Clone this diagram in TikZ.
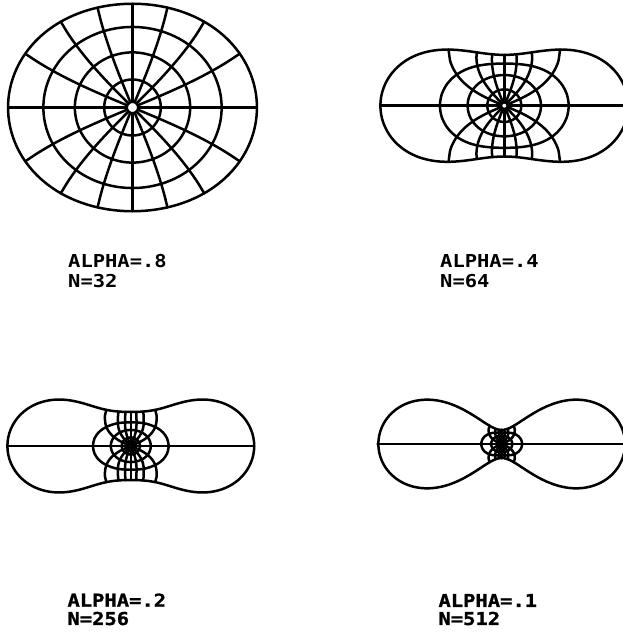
\documentclass[tikz,border=0pt]{standalone}
\usepackage{fontspec}
\newfontfamily\plotfont[FakeStretch=1.15]{DejaVu Sans Mono Bold}
\newfontfamily\plotheavy[FakeStretch=1.15, FakeBold=1.2]{DejaVu Sans Mono Bold}

% image of r*e^(i theta) under z/sqrt(1-a^2 z^2): #1=a^2, #2=r, #3=theta
\newcommand\mappt[3]{%
    \pgfmathsetmacro\mP{1-#1*#2*#2*cos(2*#3)}%
    \pgfmathsetmacro\mQ{#1*#2*#2*sin(2*#3)}%
    \pgfmathsetmacro\mR{#2/sqrt(sqrt(\mP*\mP+\mQ*\mQ))}%
    \pgfmathsetmacro\mT{#3+0.5*atan2(\mQ,\mP)}%
    \pgfmathsetmacro\mx{\mR*cos(\mT)}%
    \pgfmathsetmacro\my{\mR*sin(\mT)}%
}
% point of the boundary oval at polar angle #2
\newcommand\casspt[2]{%
    \pgfmathsetmacro\mR{sqrt((#1*cos(2*#2)+sqrt(1-#1*#1*sin(2*#2)*sin(2*#2)))/(1-#1*#1))}%
    \pgfmathsetmacro\mx{\mR*cos(#2)}%
    \pgfmathsetmacro\my{\mR*sin(#2)}%
}
% widen the neck: #1=a^2, #2=scale, #3=push in pt
\newcommand\warppt[3]{%
    \ifdim #3pt>0pt
        \pgfmathsetmacro\mW{1/sqrt(1+#1)}%
        \pgfmathsetmacro\mV{min(abs(\my)/\mW,1)}%
        \pgfmathsetmacro\mE{exp(max(-9,-(\mx*#2/25)*(\mx*#2/25)))}%
        \pgfmathsetmacro\my{\my+#3/#2*\mE*\my/max(abs(\my),\mW)*\mV*\mV*\mV*\mV*\mV*\mV*\mV}%
    \fi
}

\begin{document}
\begin{tikzpicture}[
    x=1pt, y=1pt,
    mapline/.style={line width=2.5pt, line cap=round, line join=round},
    lbl/.style={font=\plotfont\fontsize{17.8}{20}\selectfont, inner sep=0pt, anchor=base west},
    lblbold/.style={lbl, font=\plotheavy\fontsize{17.8}{20}\selectfont},
]
\useasboundingbox (0,0) rectangle (622,632);

% one map per panel: centre, a^2, scale, neck push
\foreach \px/\py/\pa/\ps/\pd in {132.5/524.5/0.18/112.7/0, 504.3/526.3/0.712/66.5/0,
                                 130.8/186/0.919/35.12/8.65, 501.7/188/0.978/18.3/1}{
    \begin{scope}[shift={(\px,\py)}, x=\ps pt, y=\ps pt]
        % boundary curve
        \gdef\pth{}
        \foreach \u in {0,2,...,358}{
            \casspt{\pa}{\u}\warppt{\pa}{\ps}{\pd}
            \xdef\pth{\pth (\mx,\my)}
        }
        \edef\cmd{\noexpand\draw[mapline] plot[smooth cycle] coordinates {\pth};}\cmd
        % images of the circles
        \foreach \rr in {0.05,0.25,0.5,0.75}{
            \gdef\pth{}
            \foreach \u in {0,6,...,354}{
                \mappt{\pa}{\rr}{\u}\warppt{\pa}{\ps}{\pd}
                \xdef\pth{\pth (\mx,\my)}
            }
            \edef\cmd{\noexpand\draw[mapline] plot[smooth cycle] coordinates {\pth};}\cmd
        }
        % images of the radii
        \foreach \th in {0,22.5,...,337.5}{
            \gdef\pth{}
            \foreach \u in {0.05,0.1,...,0.95,1}{
                \mappt{\pa}{\u}{\th}\warppt{\pa}{\ps}{\pd}
                \xdef\pth{\pth (\mx,\my)}
            }
            \edef\cmd{\noexpand\draw[mapline] plot[smooth] coordinates {\pth};}\cmd
        }
    \end{scope}
}

% labels
\node[lbl] (alpha1) at (68,364) {ALPHA=.8};
\node[lbl] (n1) at ([yshift=-20pt]alpha1.base west) {N=32};
\node[lbl] (alpha2) at (440,364) {ALPHA=.4};
\node[lbl] (n2) at ([yshift=-20pt]alpha2.base west) {N=64};
\node[lblbold] (alpha3) at (67.3,25.3) {ALPHA=.2};
\node[lblbold] (n3) at ([yshift=-18.3pt]alpha3.base west) {N=256};
\node[lblbold] (alpha4) at (438.3,25) {ALPHA=.1};
\node[lblbold] (n4) at ([yshift=-18pt]alpha4.base west) {N=512};

\end{tikzpicture}
\end{document}
